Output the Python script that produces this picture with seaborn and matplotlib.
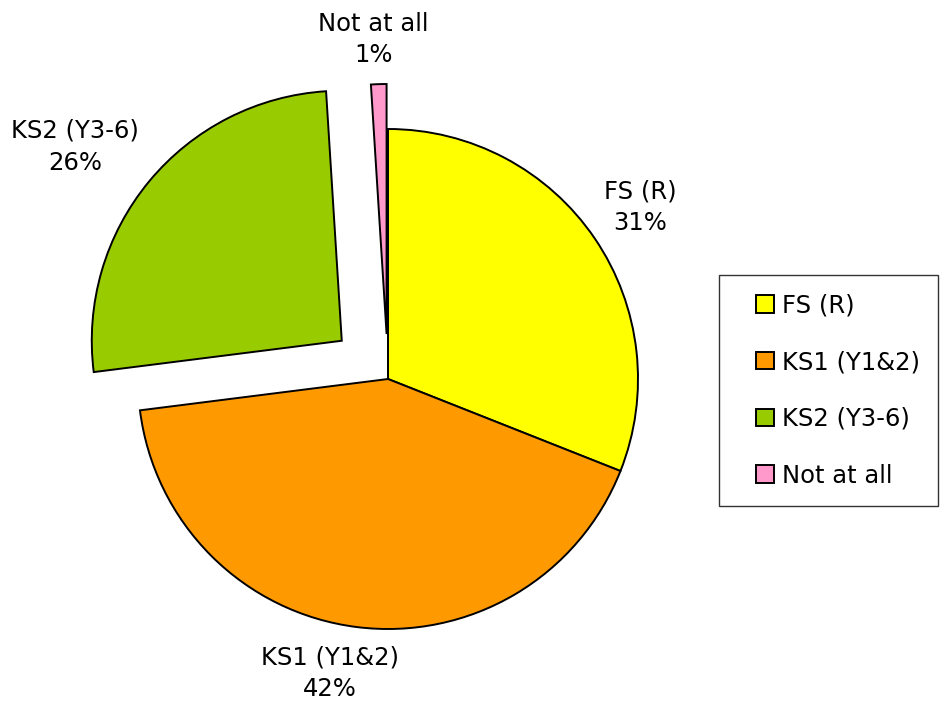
import numpy as np
import matplotlib
matplotlib.use("Agg")
import matplotlib.pyplot as plt
from matplotlib.patches import Rectangle
from matplotlib.legend_handler import HandlerPatch
import seaborn as sns

categories = ["FS (R)", "KS1 (Y1&2)", "KS2 (Y3-6)", "Not at all"]
values = [31, 42, 26, 1]
colors = ["#FFFF00", "#FF9900", "#99CC00", "#FF99CC"]
explode = [0.0, 0.0, 0.24, 0.18]
label_dist = [1.22, 1.20, 1.32, 1.18]
label_angle_shift = [0.0, -4.0, 3.6, 0.7]

sns.set_theme(style="white")
plt.rcParams["font.family"] = ["DejaVu Sans"]
plt.rcParams["text.color"] = "black"

W, H = 942, 704
cx, cy, R = 388, 379, 250
fig = plt.figure(figsize=(W / 100, H / 100), dpi=100)
ax = fig.add_axes([0, 0, 1, 1])

wedges, _ = ax.pie(values, colors=colors, explode=explode, startangle=90,
                   counterclock=False, radius=1.0, frame=True,
                   wedgeprops=dict(edgecolor="black", linewidth=1.4))
ax.set_xlim(-cx / R, (W - cx) / R)
ax.set_ylim(-(H - cy) / R, cy / R)
ax.set_aspect("auto")
ax.axis("off")

FS = 17.5
total = sum(values)
start = 90.0
for cat, v, ex, ld, sh in zip(categories, values, explode, label_dist, label_angle_shift):
    span = 360.0 * v / total
    mid_deg = start - span / 2
    start -= span
    mid = np.deg2rad(mid_deg)
    ang = np.deg2rad(mid_deg + sh)
    x = ex * np.cos(mid) + ld * np.cos(ang)
    y = ex * np.sin(mid) + ld * np.sin(ang)
    ax.text(x, y, f"{cat}\n{v / total * 100:.0f}%", ha="center", va="center",
            fontsize=FS, color="black", linespacing=1.4)


def square_patch(legend, orig_handle, xdescent, ydescent, width, height, fontsize):
    s = height
    return Rectangle((width - s - xdescent, -ydescent), s, s)


leg = fig.legend(wedges, categories, loc="upper left",
                 bbox_to_anchor=(719 / W, 1 - 275 / H), frameon=True,
                 fontsize=FS, handlelength=1.5, handleheight=0.74,
                 handletextpad=0.34, labelspacing=1.35, borderpad=0.75,
                 borderaxespad=0, fancybox=False,
                 handler_map={matplotlib.patches.Wedge: HandlerPatch(patch_func=square_patch)})
leg.get_frame().set_edgecolor("black")
leg.get_frame().set_linewidth(1.0)
for t in leg.get_texts():
    t.set_color("black")

fig.savefig("out.png", dpi=100)
